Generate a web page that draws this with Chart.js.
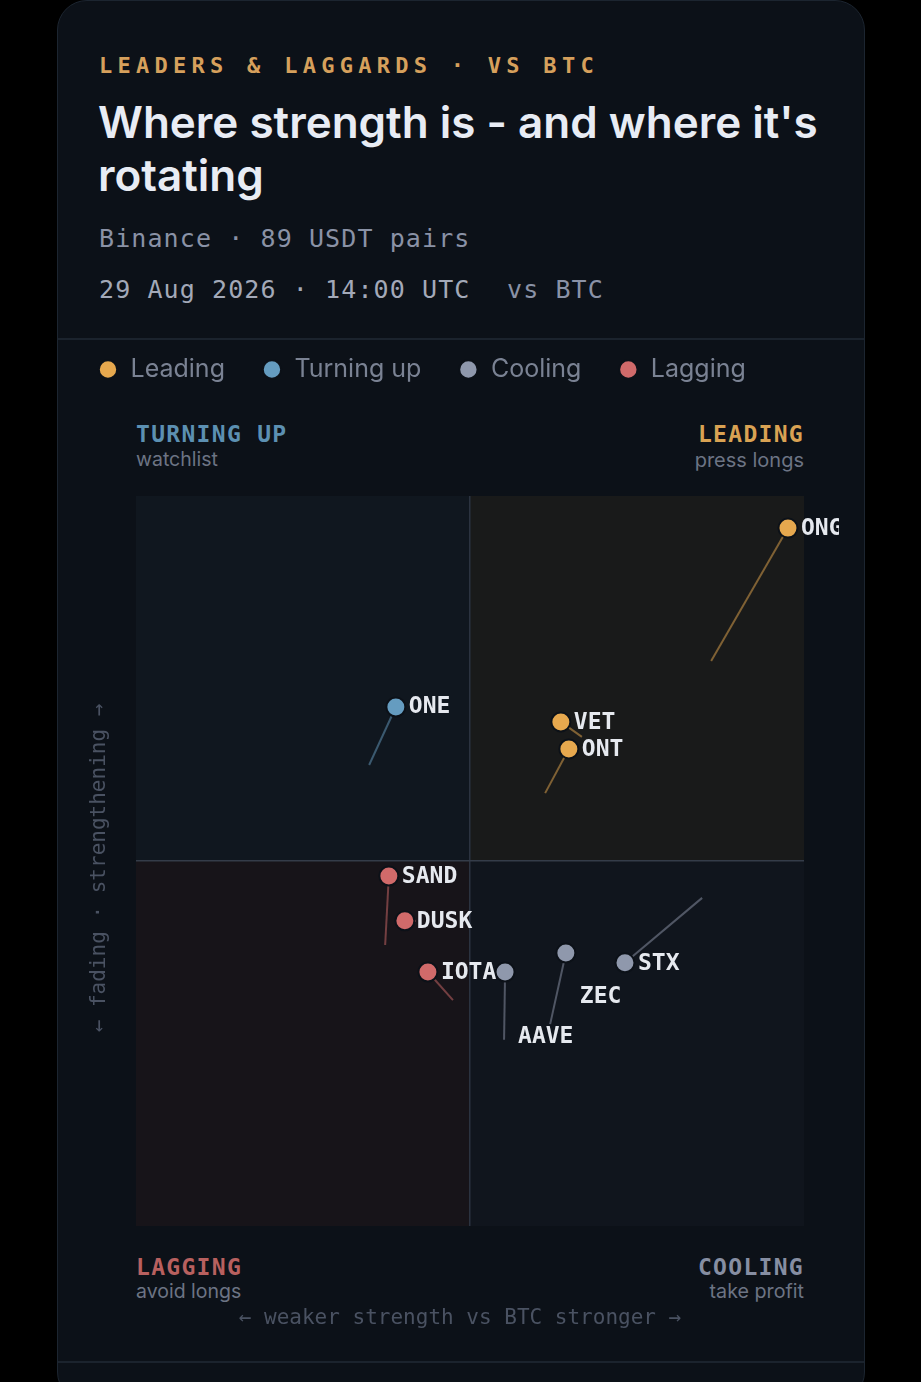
<!DOCTYPE html>
<html><head><meta charset="utf-8">
<script src="https://cdn.jsdelivr.net/npm/chart.js@4"></script>
<style>
html,body{margin:0;padding:0;background:#000;width:921px;height:1382px;overflow:hidden}
#card{position:absolute;left:57px;top:0;width:806px;height:1400px;background:#0c1118;border:1px solid #1c2530;border-radius:30px;box-sizing:content-box}
.t{position:absolute;white-space:nowrap;line-height:1;transform:translateY(-50%)}
.m{font-family:"DejaVu Sans Mono",monospace}
.i{font-family:Inter,sans-serif}
.rule{position:absolute;left:58px;width:806px;height:2px;background:#1b232d}
canvas{position:absolute}
#wrap{position:absolute;left:61px;top:320px;width:778px;height:1020px}
</style></head><body>
<div id="card"></div>
<div class="rule" style="top:338px"></div>
<div class="rule" style="top:1361px"></div>
<div class="t m" style="left:99px;top:66px;font-size:22px;font-weight:600;letter-spacing:5.27px;color:#d6a05c">LEADERS &amp; LAGGARDS · VS BTC</div>
<div class="t i" style="left:98px;top:122px;font-size:44px;font-weight:600;color:#e8ecf4">Where strength is - and where it's</div>
<div class="t i" style="left:98px;top:175px;font-size:44px;font-weight:600;color:#e8ecf4">rotating</div>
<div class="t m" style="left:99px;top:238px;font-size:25px;letter-spacing:1.1px;color:#8a92a6">Binance · 89 USDT pairs</div>
<div class="t m" style="left:99px;top:289px;font-size:25px;letter-spacing:1.1px;color:#a3a9b8">29 Aug 2026 · 14:00 UTC</div>
<div class="t m" style="left:507px;top:289px;font-size:25px;letter-spacing:1.1px;color:#8a92a6">vs BTC</div>
<div class="t m" style="left:136px;top:434px;font-size:23px;font-weight:700;letter-spacing:1.3px;color:#5c90b2">TURNING UP</div>
<div class="t i" style="left:136px;top:460px;font-size:19.5px;color:#6c7484">watchlist</div>
<div class="t m" style="right:117px;top:434px;font-size:23px;font-weight:700;letter-spacing:1.3px;color:#d9a253">LEADING</div>
<div class="t i" style="right:117px;top:460px;font-size:20px;color:#6c7484">press longs</div>
<div class="t m" style="left:136px;top:1267px;font-size:23px;font-weight:700;letter-spacing:1.3px;color:#b8605f">LAGGING</div>
<div class="t i" style="left:136px;top:1292px;font-size:19.5px;color:#6c7484">avoid longs</div>
<div class="t m" style="right:117px;top:1267px;font-size:23px;font-weight:700;letter-spacing:1.3px;color:#868ea2">COOLING</div>
<div class="t i" style="right:117px;top:1292px;font-size:19.7px;color:#6c7484">take profit</div>
<div id="wrap"><canvas id="c"></canvas></div>
<script>
const groupNames = ["Leading","Turning up","Cooling","Lagging"];
const leadingCoins = ["ONG","VET","ONT"];
const leadingX = [95.2,27.2,29.6];
const leadingY = [91.2,38.1,30.7];
const leadingTailX = [72.2,33.5,22.5];
const leadingTailY = [54.8,34.0,18.6];
const turningCoins = ["ONE"];
const turningX = [-22.2];
const turningY = [42.2];
const turningTailX = [-30.2];
const turningTailY = [26.3];
const coolingCoins = ["AAVE","ZEC","STX"];
const coolingX = [10.5,28.7,46.4];
const coolingY = [-30.4,-25.2,-27.9];
const coolingTailX = [10.2,24.0,69.5];
const coolingTailY = [-49.0,-44.7,-10.1];
const laggingCoins = ["SAND","DUSK","IOTA"];
const laggingX = [-24.3,-19.5,-12.6];
const laggingY = [-4.1,-16.4,-30.4];
const laggingTailX = [-25.4,-16.2,-5.1];
const laggingTailY = [-23.0,-16.4,-38.1];
const xAxisTitle = "← weaker strength vs BTC stronger →";
const yAxisTitle = "← fading · strengthening →";

const groups = [
 {name:groupNames[0],coins:leadingCoins,x:leadingX,y:leadingY,tx:leadingTailX,ty:leadingTailY,color:"#e6a84e",tail:"rgba(230,168,78,.5)"},
 {name:groupNames[1],coins:turningCoins,x:turningX,y:turningY,tx:turningTailX,ty:turningTailY,color:"#659cc0",tail:"rgba(101,156,192,.5)"},
 {name:groupNames[2],coins:coolingCoins,x:coolingX,y:coolingY,tx:coolingTailX,ty:coolingTailY,color:"#8f98ac",tail:"rgba(143,152,172,.5)"},
 {name:groupNames[3],coins:laggingCoins,x:laggingX,y:laggingY,tx:laggingTailX,ty:laggingTailY,color:"#d06a6a",tail:"rgba(208,106,106,.5)"}
];
const labelShift = {ONE:[13,0],DUSK:[12,1],AAVE:[13,65],ZEC:[14,44]};
const canvasLeft = 61, canvasTop = 320;
const datasets = [];
groups.forEach(g=>datasets.push({type:"scatter",label:g.name,coins:g.coins,xAxisID:"x",yAxisID:"y",
  data:g.x.map((v,i)=>({x:v,y:g.y[i]})),
  pointRadius:9.5,pointBorderWidth:2,pointBorderColor:"#0c1118",
  backgroundColor:g.color,pointBackgroundColor:g.color,borderColor:g.color,showLine:false}));
groups.forEach(g=>g.coins.forEach((c,i)=>datasets.push({type:"line",label:c+" trail",isTail:true,xAxisID:"x",yAxisID:"y",
  data:[{x:g.tx[i],y:g.ty[i]},{x:g.x[i],y:g.y[i]}],
  borderColor:g.tail,borderWidth:2,pointRadius:0,tension:0,fill:false})));

const decor = {
 id:"decor",
 beforeDraw(ch){
  const {ctx,scales:{x,y}}=ch;
  const x0=x.getPixelForValue(0),y0=y.getPixelForValue(0),l=x.left,r=x.right,t=y.top,b=y.bottom;
  ctx.save();
  ctx.fillStyle="#10171f";ctx.fillRect(l,t,x0-l,y0-t);
  ctx.fillStyle="#191a1a";ctx.fillRect(x0,t,r-x0,y0-t);
  ctx.fillStyle="#171419";ctx.fillRect(l,y0,x0-l,b-y0);
  ctx.fillStyle="#10151d";ctx.fillRect(x0,y0,r-x0,b-y0);
  ctx.restore();
 },
 afterDatasetsDraw(ch){
  const {ctx,scales:{x,y}}=ch;
  ctx.save();
  ctx.font='700 23px "DejaVu Sans Mono",monospace';
  ctx.fillStyle="#e6e9ef";ctx.textBaseline="middle";ctx.textAlign="left";
  groups.forEach(g=>g.coins.forEach((c,i)=>{
    const s=labelShift[c]||[13,1];
    ctx.fillText(c,x.getPixelForValue(g.x[i])+s[0],y.getPixelForValue(g.y[i])+s[1]);
  }));
  ctx.font='21px "DejaVu Sans Mono",monospace';
  ctx.fillStyle="#4a5262";ctx.textAlign="center";
  ctx.fillText(xAxisTitle,460-canvasLeft,1319-canvasTop);
  ctx.translate(100-canvasLeft,868-canvasTop);ctx.rotate(-Math.PI/2);
  ctx.fillText(yAxisTitle,0,0);
  ctx.restore();
 }
};
const spacer = (pos,size)=>({type:"linear",position:pos,display:true,min:0,max:1,
  ticks:{display:false},grid:{display:false,drawTicks:false},border:{display:false},
  afterFit(s){ if(pos==="left"||pos==="right") s.width=size; else s.height=size; }});
new Chart(document.getElementById("c"),{
 type:"scatter",
 data:{datasets},
 plugins:[decor],
 options:{
  responsive:true,maintainAspectRatio:false,animation:false,
  layout:{padding:0},
  plugins:{
   tooltip:{enabled:false},
   legend:{position:"top",align:"start",
    labels:{usePointStyle:true,pointStyle:"circle",boxHeight:13,boxWidth:20,padding:37,color:"#7a8293",
     font:{family:"Inter",size:25},
     filter:(item,data)=>!data.datasets[item.datasetIndex].isTail}}
  },
  scales:{
   x:{type:"linear",position:"bottom",min:-100,max:100,ticks:{display:false,stepSize:100},border:{display:false},
      afterFit(s){s.height=114;},
      grid:{drawTicks:false,lineWidth:1.5,color:c=>c.tick&&c.tick.value===0?"#2b3340":"transparent"}},
   y:{type:"linear",position:"left",min:-100,max:100,ticks:{display:false,stepSize:100},border:{display:false},
      afterFit(s){s.width=75;},
      grid:{drawTicks:false,lineWidth:1.5,color:c=>c.tick&&c.tick.value===0?"#343c49":"transparent"}},
   rightGap:spacer("right",35),
   topGap:spacer("top",104)
  }
 }
});
</script></body></html>
